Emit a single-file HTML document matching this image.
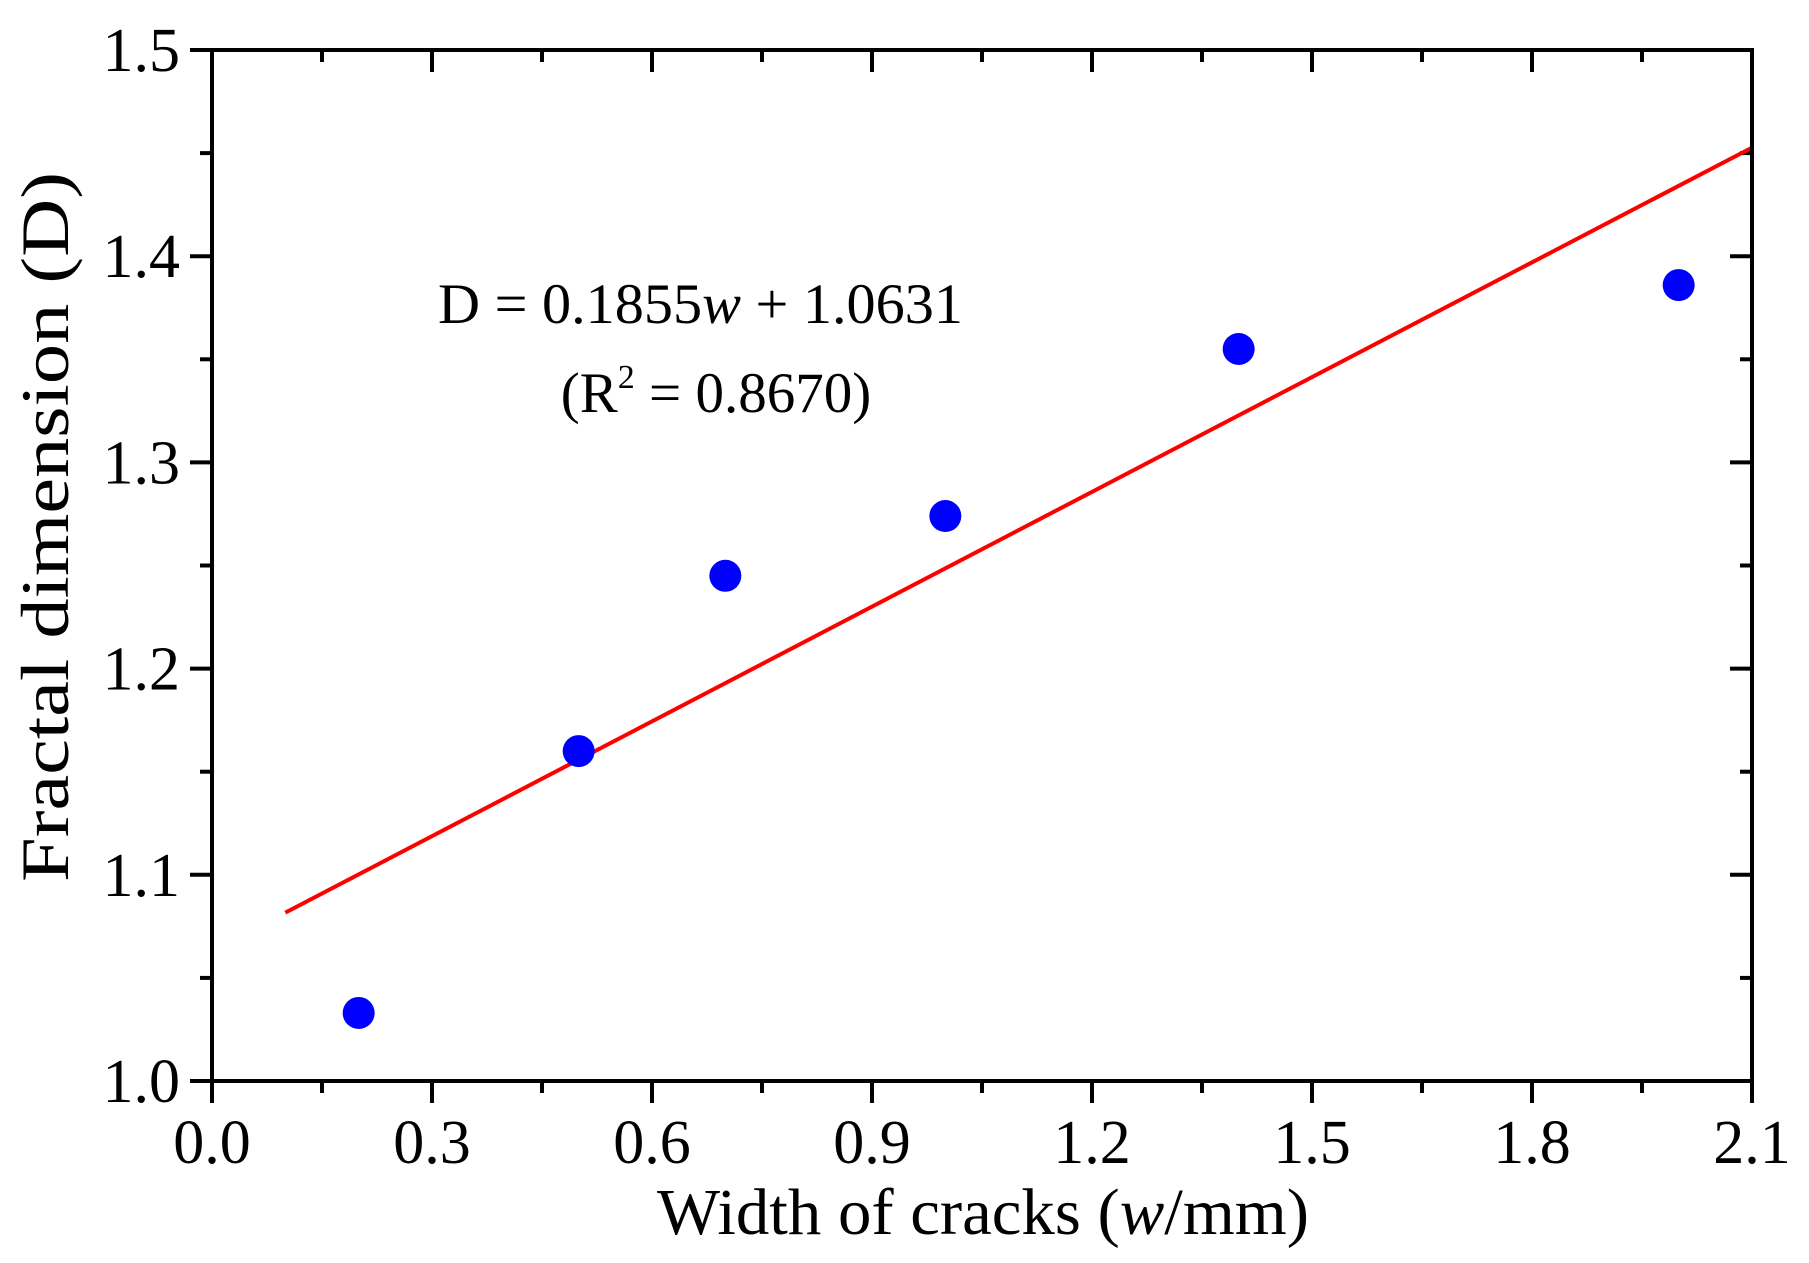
<!DOCTYPE html>
<html><head><meta charset="utf-8"><style>
html,body{margin:0;padding:0;background:#fff;}
svg{display:block;font-family:"Liberation Serif",serif;}
</style></head><body>
<svg id="chart" width="1809" height="1263" viewBox="0 0 1809 1263" xmlns="http://www.w3.org/2000/svg">
<g id="ticks"></g>
<g id="marks"></g>
<rect x="212" y="50" width="1540" height="1031" fill="none" stroke="#000" stroke-width="4"/>
<text x="438" y="323" font-size="57" textLength="525" lengthAdjust="spacingAndGlyphs">D = 0.1855<tspan font-style="italic">w</tspan> + 1.0631</text>
<text x="716" y="412" font-size="57" text-anchor="middle">(R<tspan dy="-24" font-size="34">2</tspan><tspan dy="24"> = 0.8670)</tspan></text>
<text x="983" y="1234" font-size="66" text-anchor="middle" textLength="652" lengthAdjust="spacingAndGlyphs">Width of cracks (<tspan font-style="italic">w</tspan>/mm)</text>
<text x="0" y="0" font-size="68" text-anchor="middle" textLength="710" lengthAdjust="spacingAndGlyphs" transform="translate(68,527) rotate(-90)">Fractal dimension (D)</text>
</svg>
<script>
const xValues=[0.2,0.5,0.7,1.0,1.4,2.0];
const yValues=[1.033,1.16,1.245,1.274,1.355,1.386];
const slope=0.1855;
const intercept=1.0631;
const fitRange=[0.1,2.1];
const xTicks=["0.0","0.3","0.6","0.9","1.2","1.5","1.8","2.1"];
const yTicks=["1.0","1.1","1.2","1.3","1.4","1.5"];
const L=212,R=1752,T=50,B=1081,xmin=0,xmax=2.1,ymin=1.0,ymax=1.5;
const sx=v=>L+(v-xmin)/(xmax-xmin)*(R-L);
const sy=v=>B-(v-ymin)/(ymax-ymin)*(B-T);
const NS="http://www.w3.org/2000/svg";
const tg=document.getElementById('ticks'),mg=document.getElementById('marks');
function ln(g,x1,y1,x2,y2,c,w){const e=document.createElementNS(NS,'line');e.setAttribute('x1',x1);e.setAttribute('y1',y1);e.setAttribute('x2',x2);e.setAttribute('y2',y2);e.setAttribute('stroke',c);e.setAttribute('stroke-width',w);g.appendChild(e);return e;}
function tx(g,x,y,s,anchor){const e=document.createElementNS(NS,'text');e.setAttribute('x',x);e.setAttribute('y',y);e.setAttribute('font-size','62');e.setAttribute('text-anchor',anchor);e.textContent=s;g.appendChild(e);return e;}
for(let i=0;i<xTicks.length;i++){
  const v=parseFloat(xTicks[i]),x=sx(v);
  let t=ln(tg,x,B,x,B+22,'#000',4);
  
  
  t=ln(tg,x,T,x,T+22,'#000',4);
  
  
  const lb=tx(tg,x,1163,xTicks[i],'middle');
  
  
  if(i<xTicks.length-1){const xm=sx(v+0.15);
    t=ln(tg,xm,B,xm,B+12,'#000',4);
    
    
    t=ln(tg,xm,T,xm,T+12,'#000',4);
    
    }
}
for(let i=0;i<yTicks.length;i++){
  const v=parseFloat(yTicks[i]),y=sy(v);
  let t=ln(tg,L-22,y,L,y,'#000',4);
  
  
  t=ln(tg,R-22,y,R,y,'#000',4);
  
  
  const lb=tx(tg,180,y+21,yTicks[i],'end');
  
  
  if(i<yTicks.length-1){const ym=sy(v+0.05);
    t=ln(tg,L-12,ym,L,ym,'#000',4);
    
    
    t=ln(tg,R-12,ym,R,ym,'#000',4);
    
    }
}
const fit=ln(mg,sx(fitRange[0]),sy(slope*fitRange[0]+intercept),sx(fitRange[1]),sy(slope*fitRange[1]+intercept),'#ff0000',4);


for(let i=0;i<xValues.length;i++){
  const c=document.createElementNS(NS,'circle');
  c.setAttribute('cx',sx(xValues[i]));c.setAttribute('cy',sy(yValues[i]));c.setAttribute('r',16);c.setAttribute('fill','#0000ff');
  
  
  mg.appendChild(c);
}
</script>
</body></html>
